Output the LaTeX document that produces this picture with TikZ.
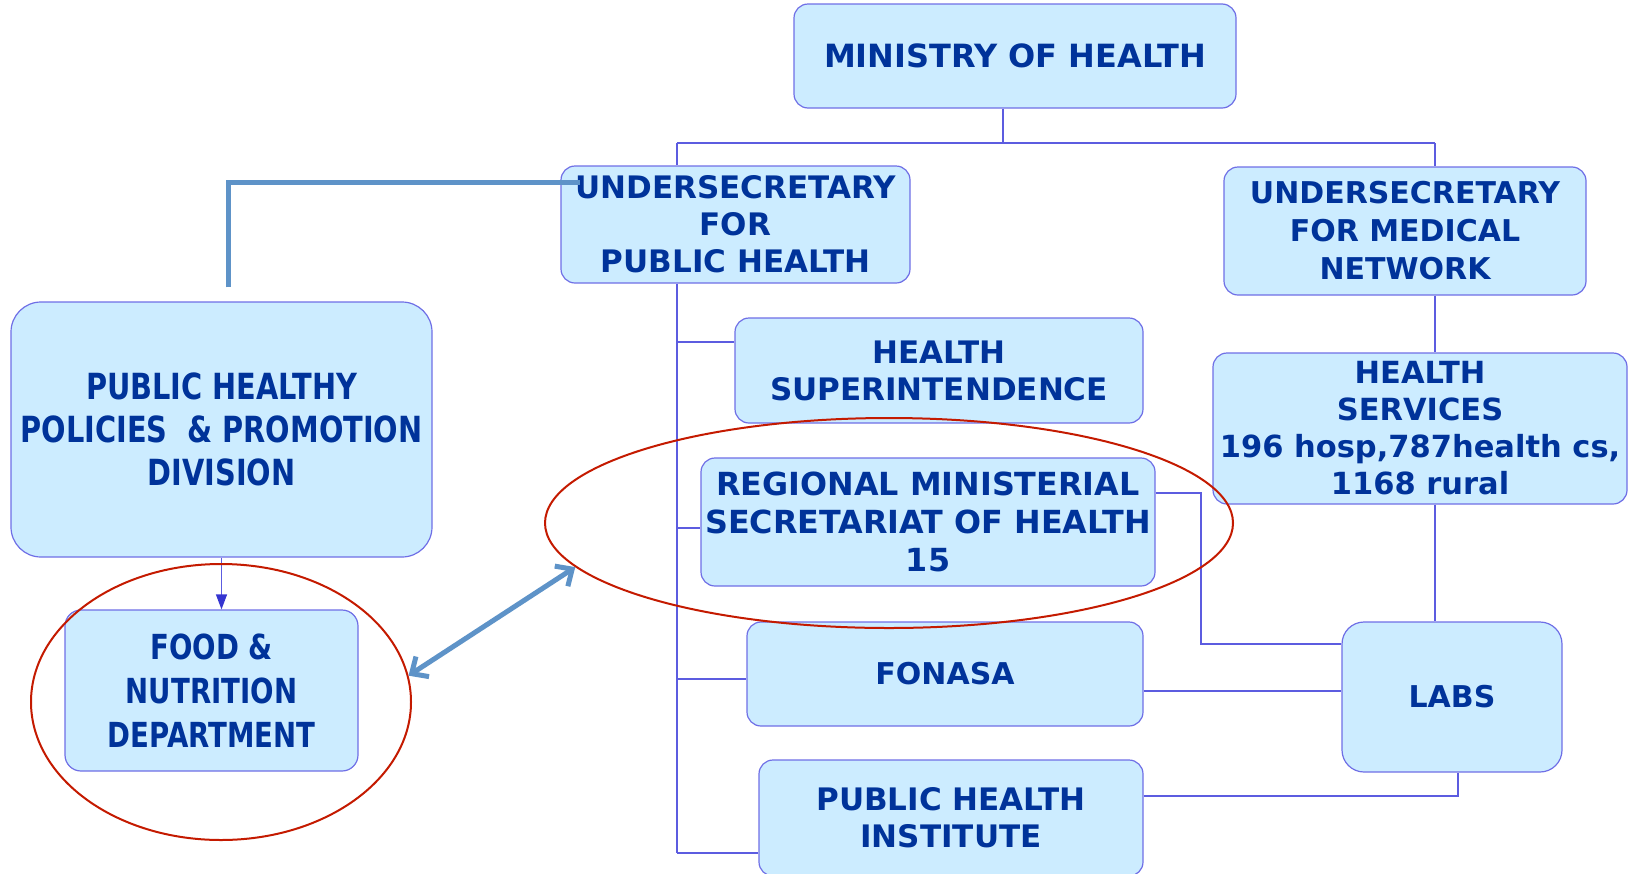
\documentclass[tikz,border=0pt]{standalone}
\usepackage{fontspec}
\setmainfont{DejaVu Sans}
\newfontfamily\narrowfont{DejaVu Sans}[FakeStretch=0.8]
\usetikzlibrary{arrows.meta, positioning, shapes.geometric}

\definecolor{boxfill}{HTML}{CCECFF}
\definecolor{boxline}{HTML}{6F6FE6}
\definecolor{inkblue}{HTML}{00339A}
\definecolor{linkblue}{HTML}{5C5CE0}
\definecolor{tipblue}{HTML}{3535D0}
\definecolor{ringred}{HTML}{C41A00}
\definecolor{steel}{HTML}{5E93C8}

\tikzset{
  unit/.style={draw=boxline, line width=1.2pt, fill=boxfill, rounded corners=14pt,
    align=center, text=inkblue, inner sep=0pt, font=\bfseries\fontsize{31}{37}\selectfont},
  narrowunit/.style={unit, font=\narrowfont\bfseries\fontsize{36}{43}\selectfont},
  link/.style={draw=linkblue, line width=1.2pt},
  ring/.style={ellipse, draw=ringred, line width=2pt, inner sep=0pt},
  pointer/.style={draw=steel, line width=5pt},
}

\begin{document}
\begin{tikzpicture}[x=1pt, y=-1pt]
    \useasboundingbox (0,0) rectangle (1629,873);

    % boxes
    \node[unit, minimum width=442, minimum height=104, font=\bfseries\fontsize{32}{37}\selectfont] (ministry) at (1015,56) {MINISTRY OF HEALTH};
    \node[unit, minimum width=349, minimum height=117] (usph) at (735.5,224.5) {UNDERSECRETARY\\FOR\\PUBLIC HEALTH};
    \node[unit, minimum width=362, minimum height=128, font=\bfseries\fontsize{30}{38}\selectfont] (usmn) at (1405,231) {UNDERSECRETARY\\FOR MEDICAL\\NETWORK};
    \node[unit, minimum width=408, minimum height=105] (superint) at (939,370.5) {HEALTH\\SUPERINTENDENCE};
    \node[unit, minimum width=454, minimum height=128, font=\bfseries\fontsize{31.8}{38}\selectfont] (regional) at (928,522) {REGIONAL MINISTERIAL\\SECRETARIAT OF HEALTH\\15};
    \node[unit, minimum width=396, minimum height=104, font=\bfseries\fontsize{30}{37}\selectfont] (fonasa) at (945,674) {FONASA};
    \node[unit, minimum width=384, minimum height=116] (phi) at (951,818) {PUBLIC HEALTH\\INSTITUTE};
    \node[unit, minimum width=414, minimum height=151, font=\bfseries\fontsize{30.5}{37}\selectfont] (services) at (1420,428.5) {HEALTH\\SERVICES\\196 hosp,787health cs,\\1168 rural};
    \node[unit, minimum width=220, minimum height=150, rounded corners=22pt, font=\bfseries\fontsize{30}{37}\selectfont] (labs) at (1452,697) {LABS};
    \node[narrowunit, minimum width=421, minimum height=255, rounded corners=30pt] (policies) at (221.5,429.5) {PUBLIC HEALTHY\\POLICIES~ \& PROMOTION\\DIVISION};
    \node[narrowunit, minimum width=293, minimum height=161, rounded corners=16pt, font=\narrowfont\bfseries\fontsize{34.5}{44}\selectfont] (food) at (211.5,690.5) {FOOD \&\\NUTRITION\\DEPARTMENT};

    % tree lines
    \coordinate (busL) at (677,143);
    \coordinate (busM) at (1003,143);
    \coordinate (busR) at (1435,143);
    \draw[link] (busM |- ministry.south) -- (busM);
    \draw[link] (busL) -- (busR);
    \draw[link] (busL) -- (busL |- usph.north);
    \draw[link] (busR) -- (busR |- usmn.north);
    \coordinate (b1) at ([yshift=28.5pt]superint.west);
    \coordinate (b2) at ([yshift=-6pt]regional.west);
    \coordinate (b3) at ([yshift=-5pt]fonasa.west);
    \coordinate (b4) at ([yshift=-35pt]phi.west);
    \draw[link] (busL |- usph.south) -- (busL |- b4);
    \foreach \b in {b1,b2,b3,b4}
        \draw[link] (busL |- \b) -- (\b);
    \draw[link] (busR |- usmn.south) -- (busR |- services.north);
    \draw[link] (busR |- services.south) -- (busR |- labs.north);

    % links to labs
    \coordinate (r1) at ([yshift=29pt]regional.east);
    \coordinate (bend) at (1201,0);
    \coordinate (l1) at ([yshift=53pt]labs.west);
    \draw[link] (r1) -- (r1 -| bend) |- (l1);
    \coordinate (f1) at ([yshift=-17pt]fonasa.east);
    \draw[link] (f1) -- (f1 -| labs.west);
    \coordinate (p1) at ([yshift=22pt]phi.east);
    \draw[link] (p1) -| ([xshift=6pt]labs.south);

    % division to department
    \draw[link, -{Triangle[length=15pt, width=11pt, color=tipblue]}] (policies.south) -- (policies.south |- food.north);

    % highlights
    \node[ring, minimum width=380, minimum height=276] (foodring) at (221,702) {};
    \node[ring, minimum width=688, minimum height=210] (regring) at (889,523) {};
    \draw[pointer, {Straight Barb[length=13pt, width=24pt]}-{Straight Barb[length=13pt, width=24pt]}] (foodring.8) -- (regring.188);
    \coordinate (tap) at (580,182);
    \draw[pointer] ([shift={(7,-14)}]policies.north) |- (tap);
\end{tikzpicture}
\end{document}
